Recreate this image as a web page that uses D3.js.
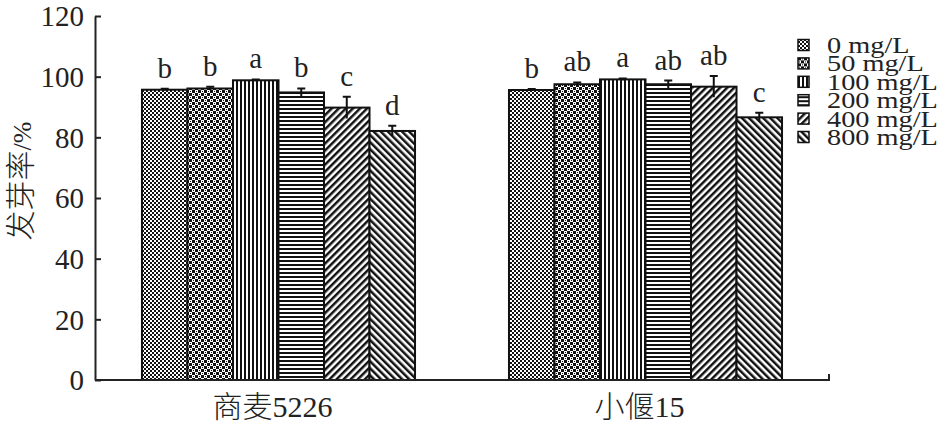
<!DOCTYPE html>
<html>
<meta charset="utf-8">
<head>
  <script src="https://d3js.org/d3.v7.min.js"></script>
  <style>
  body { margin: 0; background: #fff; }
  svg text { font-family: "Liberation Serif", "Times New Roman", serif; fill: #222; }
  .cjk { font-family: "Noto Sans CJK SC", sans-serif; font-weight: 300; }
  .axis path, .axis line { stroke: #222; stroke-width: 2px; }
  .bar { stroke: #111; stroke-width: 2px; }
  .err { stroke: #111; stroke-width: 2px; fill: none; }
  </style>
</head>
<body>
<div id="chart"></div>
<script>

// data
var cultivars = ["商麦5226", "小偃15"]
var doses = ["0 mg/L", "50 mg/L", "100 mg/L", "200 mg/L", "400 mg/L", "800 mg/L"]
var means = [
  [95.7, 96.1, 98.8, 94.8, 89.8, 82.1],   // 商麦5226
  [95.6, 97.5, 99.1, 97.5, 96.7, 86.6]    // 小偃15
]
var errors = [
  [0.3, 0.6, 0.3, 1.3, 3.6, 1.7],
  [0.3, 0.6, 0.3, 1.2, 3.5, 1.5]
]
var letters = [
  ["b", "b", "a", "b", "c", "d"],
  ["b", "ab", "a", "ab", "ab", "c"]
]
var yTicks = [0, 20, 40, 60, 80, 100, 120]

var W = 940, H = 434
var margin = {top: 16, left: 95, right: 111, bottom: 54}

var svg = d3.select("#chart").append("svg")
    .attr("width", W)
    .attr("height", H)

/* hatch patterns, one per dose */
var defs = svg.append("defs")
function pat(id, w, h, rot) {
  var p = defs.append("pattern")
      .attr("id", id)
      .attr("patternUnits", "userSpaceOnUse")
      .attr("width", w).attr("height", h)
  if (rot) p.attr("patternTransform", "rotate(" + rot + ")")
  p.append("rect").attr("width", w).attr("height", h).attr("fill", "#fff")
  return p
}
var p0 = pat("p0", 4, 4)
p0.append("rect").attr("x", 0).attr("y", 0).attr("width", 2).attr("height", 2).attr("fill", "#111")
p0.append("rect").attr("x", 2).attr("y", 2).attr("width", 2).attr("height", 2).attr("fill", "#111")
var p1 = pat("p1", 6, 6)
p1.append("rect").attr("x", 0).attr("y", 0).attr("width", 3).attr("height", 3).attr("fill", "#111")
p1.append("rect").attr("x", 3).attr("y", 3).attr("width", 3).attr("height", 3).attr("fill", "#111")
p1.append("rect").attr("x", 4).attr("y", 1).attr("width", 1).attr("height", 1).attr("fill", "#111")
p1.append("rect").attr("x", 1).attr("y", 4).attr("width", 1).attr("height", 1).attr("fill", "#111")
var p2 = pat("p2", 4, 4)
p2.append("rect").attr("width", 2).attr("height", 4).attr("fill", "#111")
var p3 = pat("p3", 4, 4)
p3.append("rect").attr("width", 4).attr("height", 2).attr("fill", "#111")
var p4 = pat("p4", 5, 5, 45)
p4.append("rect").attr("width", 2.5).attr("height", 5).attr("fill", "#111")
var p5 = pat("p5", 5, 5, -45)
p5.append("rect").attr("width", 2.5).attr("height", 5).attr("fill", "#111")
var fills = ["url(#p0)", "url(#p1)", "url(#p2)", "url(#p3)", "url(#p4)", "url(#p5)"]

var x0 = d3.scaleBand()
    .domain(cultivars)
    .range([margin.left, W - margin.right])
    .paddingInner(0.256)
    .paddingOuter(0.128)

var x1 = d3.scaleBand()
    .domain(doses)
    .range([0, x0.bandwidth()])

var y = d3.scaleLinear()
    .domain([0, 120])
    .range([H - margin.bottom, margin.top])

var rows = []
cultivars.forEach(function(c, i) {
  doses.forEach(function(d, j) {
    rows.push({c: c, d: d, j: j, v: means[i][j], e: errors[i][j], l: letters[i][j]})
  })
})

var g = svg.append("g")

g.selectAll("rect.bar").data(rows).enter().append("rect")
    .attr("class", "bar")
    .attr("x", function(r) { return x0(r.c) + x1(r.d) })
    .attr("y", function(r) { return y(r.v) })
    .attr("width", x1.bandwidth())
    .attr("height", function(r) { return y(0) - y(r.v) })
    .attr("fill", function(r) { return fills[r.j] })

// error bars (upper cap only shows above the bar)
var cap = 4
g.selectAll("path.err").data(rows).enter().append("path")
    .attr("class", "err")
    .attr("d", function(r) {
      var cx = x0(r.c) + x1(r.d) + x1.bandwidth() / 2
      var t = y(r.v + r.e), b = y(r.v - r.e)
      return "M" + cx + "," + b + "V" + t + "M" + (cx - cap) + "," + t + "H" + (cx + cap)
    })

g.selectAll("text.sig").data(rows).enter().append("text")
    .attr("class", "sig")
    .attr("x", function(r) { return x0(r.c) + x1(r.d) + x1.bandwidth() / 2 })
    .attr("y", function(r) { return y(r.v + r.e) - 11 })
    .attr("text-anchor", "middle")
    .style("font-size", "29px")
    .text(function(r) { return r.l })

// y axis, ticks pointing inward
var yAxis = svg.append("g")
    .attr("class", "axis")
    .attr("transform", "translate(" + margin.left + ",0)")
    .call(d3.axisLeft(y).tickValues(yTicks).tickSizeInner(-6).tickSizeOuter(0).tickPadding(11))
yAxis.selectAll("text").style("font-size", "29px").attr("dy", "0.34em")

// x axis
var xAxis = svg.append("g")
    .attr("class", "axis")
    .attr("transform", "translate(0," + y(0) + ")")
    .call(d3.axisBottom(x0).tickSize(0).tickPadding(16))
xAxis.select(".domain").attr("d", "M" + margin.left + ",0H" + (W - margin.right) + "V-6")
// split CJK and digits so the digits stay in the serif face
xAxis.selectAll("text").each(function(d) {
  var t = d3.select(this).text("").style("font-size", "30px").attr("dy", "0.71em").attr("dx", -6)
  var m = d.match(/^(\D+)(\d+)$/)
  t.append("tspan").attr("class", "cjk").text(m[1])
  t.append("tspan").text(m[2])
})

// y label
var yl = svg.append("text")
    .attr("transform", "translate(31," + (margin.top + 165) + ") rotate(-90)")
    .attr("text-anchor", "middle")
    .style("font-size", "30px")
yl.append("tspan").attr("class", "cjk").text("发芽率")
yl.append("tspan").style("font-size", "26px").text("/%")

// legend
var leg = svg.append("g").attr("transform", "translate(798,45)")
var item = leg.selectAll("g").data(doses).enter().append("g")
    .attr("transform", function(d, i) { return "translate(0," + (i * 18.4) + ")" })
item.append("rect")
    .attr("x", 0).attr("y", -5.5)
    .attr("width", 11).attr("height", 11)
    .attr("fill", function(d, i) { return fills[i] })
    .attr("stroke", "#111").attr("stroke-width", 1.5)
item.append("text")
    .attr("transform", "translate(29,8) scale(1.18,1)")
    .style("font-size", "24px")
    .text(function(d) { return d })

</script>
</body>
</html>
